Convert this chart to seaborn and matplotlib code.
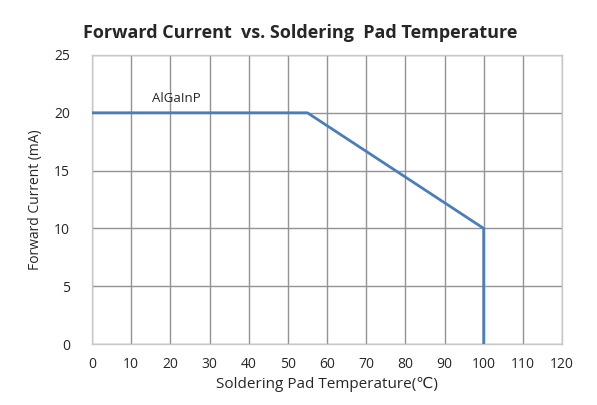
import matplotlib.pyplot as plt
import seaborn as sns
import pandas as pd

# derating curve points
temperature = [0, 55, 100, 100]
current = [20, 20, 10, 0]
x_ticks = list(range(0, 121, 10))
y_ticks = list(range(0, 26, 5))

sns.set_style('white')
plt.rcParams['font.family'] = ['Open Sans', 'DejaVu Sans']

df = pd.DataFrame({'temp': temperature, 'current': current})

fig = plt.figure(figsize=(5.97, 4.05), dpi=100)
ax = fig.add_axes([0.1541, 0.1506, 0.7873, 0.7136])
sns.lineplot(data=df, x='temp', y='current', sort=False, estimator=None,
             color='#4a7ebb', linewidth=2.0, ax=ax, zorder=3)

ax.set_xlim(0, 120)
ax.set_ylim(0, 25)
ax.set_xticks(x_ticks)
ax.set_yticks(y_ticks)
ax.grid(True, color='#939393', linewidth=1.0)
for s in ax.spines.values():
    s.set_color('#c8c8c8')
    s.set_linewidth(1.0)
ax.tick_params(axis='x', length=4, color='#939393', labelsize=10, pad=5)
ax.tick_params(axis='y', length=0, labelsize=10, pad=16)

ax.text(15.3, 21.2, 'AlGaInP', fontsize=9.5, ha='left', va='center')

ax.set_xlabel('Soldering Pad Temperature(℃)', fontsize=11, labelpad=4)
ax.set_ylabel('Forward Current (mA)', fontsize=10, labelpad=8)
fig.text(0.503, 0.918, 'Forward Current  vs. Soldering  Pad Temperature',
         ha='center', va='center', fontsize=13, fontweight='bold')

fig.savefig('out.png', dpi=100)
plt.close(fig)
